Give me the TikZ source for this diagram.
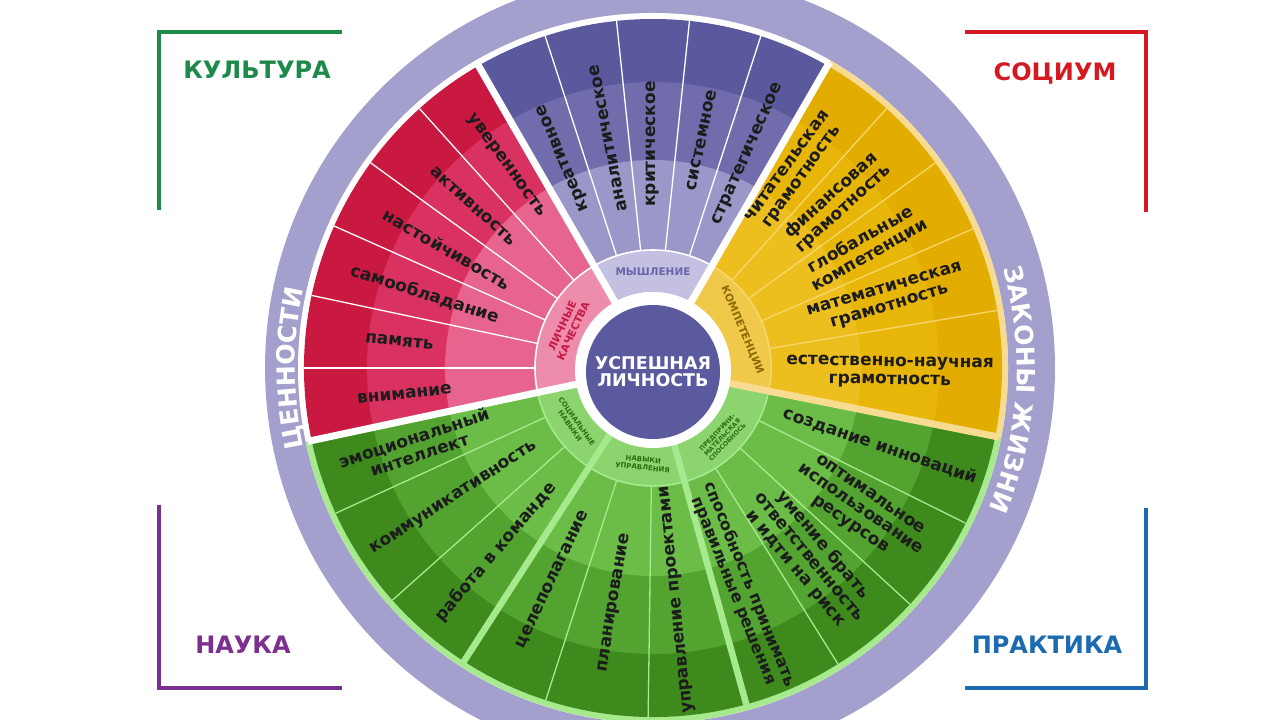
\documentclass[tikz,border=0pt]{standalone}
\usepackage{fontspec}
\setmainfont{DejaVu Sans}
\usetikzlibrary{decorations.text}
\definecolor{ringc}{HTML}{A4A0CE}
\definecolor{centc}{HTML}{5B5A9F}
\definecolor{pur1}{HTML}{5A599E}
\definecolor{pur2}{HTML}{716DAD}
\definecolor{pur3}{HTML}{9B97C9}
\definecolor{purlab}{HTML}{C3C0E1}
\definecolor{purtext}{HTML}{6966A8}
\definecolor{red1}{HTML}{CA1941}
\definecolor{red2}{HTML}{DA3260}
\definecolor{red3}{HTML}{E6648E}
\definecolor{redlab}{HTML}{EE8CAB}
\definecolor{redtext}{HTML}{C41A45}
\definecolor{yel1}{HTML}{E3AD00}
\definecolor{yel2}{HTML}{E8B608}
\definecolor{yel3}{HTML}{EDBF1E}
\definecolor{yellab}{HTML}{F1C94A}
\definecolor{yeltext}{HTML}{8A6A08}
\definecolor{yelline}{HTML}{F6D76E}
\definecolor{yelsep}{HTML}{F7DB90}
\definecolor{grn1}{HTML}{3E8A1D}
\definecolor{grn2}{HTML}{53A331}
\definecolor{grn3}{HTML}{6BBD47}
\definecolor{grnlab}{HTML}{8BD46E}
\definecolor{grntext}{HTML}{2A6E12}
\definecolor{grnline}{HTML}{A7EA8E}
\definecolor{kultc}{HTML}{1D8A4B}
\definecolor{socc}{HTML}{D51921}
\definecolor{naukac}{HTML}{7C2F8F}
\definecolor{praktc}{HTML}{1C6BB1}
\definecolor{itemc}{HTML}{1C1C1C}
\newcommand\annsec[5]{\fill[#5] (#1:#3pt) arc[start angle=#1,end angle=#2,radius=#3pt] -- (#2:#4pt) arc[start angle=#2,end angle=#1,radius=#4pt] -- cycle;}
\newcommand\labarc[3]{\draw[#3,line width=1.6pt] (#1:118pt) arc[start angle=#1,end angle=#2,radius=118pt];}
\tikzset{
  item/.style={font=\bfseries\fontsize{17}{18}\selectfont, text=itemc, align=center, inner sep=0pt},
  lab/.style={font=\bfseries\fontsize{10.5}{12}\selectfont, align=center, inner sep=0pt},
  glab/.style={font=\bfseries\fontsize{7}{8}\selectfont, text=grntext, align=center, inner sep=0pt},
  title/.style={font=\bfseries\fontsize{24}{24}\selectfont, inner sep=0pt},
  bracket/.style={line width=3.5pt},
  mainsep/.style={line width=7pt},
  thinsep/.style={line width=1.3pt}
}
\begin{document}
\begin{tikzpicture}[x=1pt,y=1pt]
\useasboundingbox (0,0) rectangle (1280,720);
\clip (0,0) rectangle (1280,720);
\fill[white] (0,0) rectangle (1280,720);
% outer ring
\fill[ringc] (660,352) circle[radius=395pt];
\begin{scope}[shift={(653,352)}]
\fill[white] (0,0) circle[radius=355pt];
% rims
\annsec{-11.3}{60}{347}{355}{yelsep}
\annsec{192}{348.7}{347}{355}{grnline}
% red sector
\annsec{120}{192}{118}{349}{red1}
\annsec{120}{192}{118}{286}{red2}
\annsec{120}{192}{118}{208}{red3}
\annsec{120}{192}{76}{118}{redlab}
% purple sector
\annsec{60}{120}{118}{349}{pur1}
\annsec{60}{120}{118}{286}{pur2}
\annsec{60}{120}{118}{208}{pur3}
\annsec{60}{120}{76}{118}{purlab}
% yellow sector
\annsec{-11.3}{60}{118}{349}{yel1}
\annsec{-11.3}{60}{118}{286}{yel2}
\annsec{-11.3}{60}{118}{208}{yel3}
\annsec{-11.3}{60}{76}{118}{yellab}
% green sector
\annsec{192}{348.7}{118}{349}{grn1}
\annsec{192}{348.7}{118}{286}{grn2}
\annsec{192}{348.7}{118}{208}{grn3}
\annsec{192}{348.7}{76}{118}{grnlab}
% label band arcs
\labarc{120}{192}{white}
\labarc{60}{120}{white}
\labarc{-11.3}{60}{yelline}
\labarc{192}{348.7}{grnline}
% item dividers
\foreach \a in {132,144,156,168,180} \draw[white,thinsep] (\a:118pt) -- (\a:349pt);
\foreach \a in {72,84,96,108} \draw[white,thinsep] (\a:118pt) -- (\a:349pt);
\foreach \a in {9.5,23.5,36,48} \draw[yelline,thinsep] (\a:118pt) -- (\a:349pt);
\foreach \a in {204.6,221.7,252.1,269.2,302,317.4,333.6} \draw[grnline,thinsep] (\a:118pt) -- (\a:349pt);
% main separators
\foreach \a in {120,60,192} \draw[white,mainsep] (0,0) -- (\a:353pt);
\draw[yelsep,mainsep] (0,0) -- (-11.3:353pt);
\foreach \a in {237.2,285.5} \draw[grnline,line width=6.5pt] (\a:70pt) -- (\a:350pt);
% centre
\fill[white] (0,-2) circle[radius=78pt];
\fill[centc] (0,-4) circle[radius=67pt];
\node[white, font=\bfseries\fontsize{17.5}{17}\selectfont, align=center, inner sep=0pt] (center) at (0,-4) {УСПЕШНАЯ\\ЛИЧНОСТЬ};
% category labels
\node[lab, text=purtext] (lmysh) at (90:96) {МЫШЛЕНИЕ};
\node[lab, text=redtext, rotate=65] (llich) at (155:94) {ЛИЧНЫЕ\\КАЧЕСТВА};
\node[lab, text=yeltext, rotate=-67] (lkomp) at (23:97) {КОМПЕТЕНЦИИ};
\node[glab, rotate=305] (lsoc) at (215:97) {СОЦИАЛЬНЫЕ\\НАВЫКИ};
\node[glab, rotate=354] (lupr) at (264:96) {НАВЫКИ\\УПРАВЛЕНИЯ};
\node[glab, font=\bfseries\fontsize{6.3}{7}\selectfont, rotate=46] (lpred) at (315:98) {ПРЕДПРИНИ-\\МАТЕЛЬСКАЯ\\СПОСОБНОСЬ};
% red items
\node[item, rotate=-54] (r1) at (126:250) {уверенность};
\node[item, rotate=-42] (r2) at (138:242) {активность};
\node[item, rotate=-30] (r3) at (150:238) {настойчивость};
\node[item, rotate=-18] (r4) at (162:240) {самообладание};
\node[item, rotate=-6] (r5) at (174:255) {память};
\node[item, rotate=6] (r6) at (186:250) {внимание};
% purple items
\node[item, rotate=113] (p1) at (113:228) {креативное};
\node[item, rotate=101] (p2) at (101:234) {аналитическое};
\node[item, rotate=90] (p3) at (90:224) {критическое};
\node[item, rotate=78] (p4) at (78:233) {системное};
\node[item, rotate=66] (p5) at (66:234) {стратегическое};
% yellow items
\node[item, rotate=54] (y1) at (54:242) {читательская\\грамотность};
\node[item, rotate=42] (y2) at (42:248) {финансовая\\грамотность};
\node[item, rotate=29.7] (y3) at (29.7:244) {глобальные\\компетенции};
\node[item, rotate=16.5] (y4) at (16.5:244) {математическая\\грамотность};
\node[item, rotate=-1] (y5) at (-1:237) {естественно-научная\\грамотность};
% green items
\node[item, rotate=18.3] (g1) at (198.3:249) {эмоциональный\\интеллект};
\node[item, rotate=33] (g2) at (213.2:238) {коммуникативность};
\node[item, rotate=49.5] (g3) at (229.5:242) {работа в команде};
\node[item, rotate=64.7] (g4) at (244.7:234) {целеполагание};
\node[item, rotate=80.7] (g5) at (260.7:238) {планирование};
\node[item, rotate=96] (g6) at (276:233) {управление проектами};
\node[item, font=\bfseries\fontsize{16}{17}\selectfont, rotate=-68] (g7) at (292:237) {способность принимать\\правильные решения};
\node[item, rotate=-50.3] (g8) at (309.7:245) {умение брать\\ответственность\\и идти на риск};
\node[item, rotate=-34.5] (g9) at (325.5:251) {оптимальное\\использование\\ресурсов};
\node[item, rotate=-18.9] (g10) at (341.1:240) {создание инноваций};
% ring texts
\path[decorate, decoration={text along path, text align=center, text color=white,
  text={|\bfseries\fontsize{25}{25}\selectfont|ЦЕННОСТИ}}]
  (197:358pt) arc[start angle=197, end angle=163, radius=358pt];
\path[decorate, decoration={text along path, text align=center, text color=white,
  text={|\bfseries\fontsize{25}{25}\selectfont|ЗАКОНЫ ЖИЗНИ}}]
  (17:364pt) arc[start angle=17, end angle=-24, radius=364pt];
\end{scope}
% corner brackets and titles
\draw[kultc, bracket] (342,688) -- (159,688) -- (159,510);
\draw[socc, bracket] (965,688) -- (1146,688) -- (1146,508);
\draw[naukac, bracket] (159,215) -- (159,32) -- (342,32);
\draw[praktc, bracket] (1146,212) -- (1146,32) -- (965,32);
\node[title, text=kultc] (kult) at (257,650) {КУЛЬТУРА};
\node[title, text=socc] (soc) at (1055,647) {СОЦИУМ};
\node[title, text=naukac] (nauka) at (243,75) {НАУКА};
\node[title, text=praktc] (prakt) at (1047,75) {ПРАКТИКА};
\end{tikzpicture}
\end{document}
